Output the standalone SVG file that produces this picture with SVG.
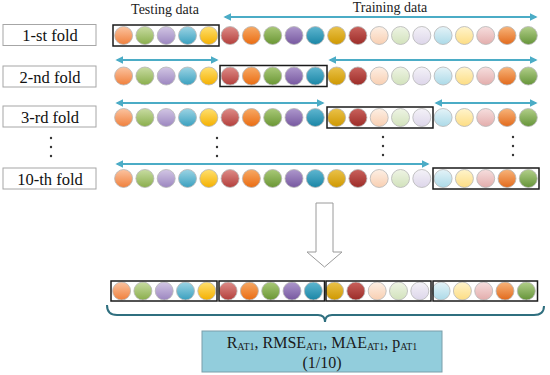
<svg xmlns="http://www.w3.org/2000/svg" xmlns:xlink="http://www.w3.org/1999/xlink" width="550" height="375" viewBox="0 0 550 375">
<style>
.lbl{fill:#fff;stroke:#a6a6a6;stroke-width:1}
.lt{font-family:"Liberation Serif",serif;font-size:16.5px;fill:#111;text-anchor:middle}
.hd{font-family:"Liberation Serif",serif;font-size:14px;fill:#222;text-anchor:middle}
.grp{fill:none;stroke:#1a1a1a;stroke-width:1.5}
.arr{fill:none;stroke:#4bacc6;stroke-width:2;marker-start:url(#ah);marker-end:url(#ah)}
.b{stroke:#b5b5b5;stroke-width:0.8}
.dot{fill:#333}
.res{font-family:"Liberation Serif",serif;font-size:16px;fill:#1a1a1a;text-anchor:middle}
.sub{font-size:10px}
</style>
<defs>
<marker id="ah" viewBox="0 0 10 10" refX="8" refY="5" markerWidth="4" markerHeight="4" orient="auto-start-reverse" markerUnits="strokeWidth">
<path d="M0,0 L10,5 L0,10 Z" fill="#4bacc6"/>
</marker>
<linearGradient id="g0" x1="0" y1="0" x2="0" y2="1"><stop offset="0" stop-color="#fbc3a0"/><stop offset="1" stop-color="#f0803c"/></linearGradient>
<linearGradient id="g1" x1="0" y1="0" x2="0" y2="1"><stop offset="0" stop-color="#c8dca2"/><stop offset="1" stop-color="#8aae4c"/></linearGradient>
<linearGradient id="g2" x1="0" y1="0" x2="0" y2="1"><stop offset="0" stop-color="#d2c6e4"/><stop offset="1" stop-color="#9c86c0"/></linearGradient>
<linearGradient id="g3" x1="0" y1="0" x2="0" y2="1"><stop offset="0" stop-color="#9cd4e4"/><stop offset="1" stop-color="#3aa0bf"/></linearGradient>
<linearGradient id="g4" x1="0" y1="0" x2="0" y2="1"><stop offset="0" stop-color="#ffe070"/><stop offset="1" stop-color="#f4b000"/></linearGradient>
<linearGradient id="g5" x1="0" y1="0" x2="0" y2="1"><stop offset="0" stop-color="#de8c88"/><stop offset="1" stop-color="#b33f3c"/></linearGradient>
<linearGradient id="g6" x1="0" y1="0" x2="0" y2="1"><stop offset="0" stop-color="#f7a965"/><stop offset="1" stop-color="#ea6c12"/></linearGradient>
<linearGradient id="g7" x1="0" y1="0" x2="0" y2="1"><stop offset="0" stop-color="#a9c978"/><stop offset="1" stop-color="#6a9634"/></linearGradient>
<linearGradient id="g8" x1="0" y1="0" x2="0" y2="1"><stop offset="0" stop-color="#ad97cc"/><stop offset="1" stop-color="#7758a0"/></linearGradient>
<linearGradient id="g9" x1="0" y1="0" x2="0" y2="1"><stop offset="0" stop-color="#5fb6d0"/><stop offset="1" stop-color="#1a86a6"/></linearGradient>
<linearGradient id="g10" x1="0" y1="0" x2="0" y2="1"><stop offset="0" stop-color="#eac24a"/><stop offset="1" stop-color="#cf9800"/></linearGradient>
<linearGradient id="g11" x1="0" y1="0" x2="0" y2="1"><stop offset="0" stop-color="#c9615c"/><stop offset="1" stop-color="#9c2c28"/></linearGradient>
<linearGradient id="g12" x1="0" y1="0" x2="0" y2="1"><stop offset="0" stop-color="#fdefe4"/><stop offset="1" stop-color="#f8cfb2"/></linearGradient>
<linearGradient id="g13" x1="0" y1="0" x2="0" y2="1"><stop offset="0" stop-color="#eef4e4"/><stop offset="1" stop-color="#d2e2bc"/></linearGradient>
<linearGradient id="g14" x1="0" y1="0" x2="0" y2="1"><stop offset="0" stop-color="#f4f2f8"/><stop offset="1" stop-color="#ddd6ea"/></linearGradient>
<linearGradient id="g15" x1="0" y1="0" x2="0" y2="1"><stop offset="0" stop-color="#e4f3f8"/><stop offset="1" stop-color="#acdae8"/></linearGradient>
<linearGradient id="g16" x1="0" y1="0" x2="0" y2="1"><stop offset="0" stop-color="#fff4cc"/><stop offset="1" stop-color="#fddd84"/></linearGradient>
<linearGradient id="g17" x1="0" y1="0" x2="0" y2="1"><stop offset="0" stop-color="#f6dede"/><stop offset="1" stop-color="#e3adac"/></linearGradient>
<linearGradient id="g18" x1="0" y1="0" x2="0" y2="1"><stop offset="0" stop-color="#f8b47a"/><stop offset="1" stop-color="#e26a1c"/></linearGradient>
<linearGradient id="g19" x1="0" y1="0" x2="0" y2="1"><stop offset="0" stop-color="#b2cf8a"/><stop offset="1" stop-color="#659438"/></linearGradient>
<g id="seq">
<circle class="b" cx="123.6" cy="0" r="9" fill="url(#g0)"/>
<circle class="b" cx="144.9" cy="0" r="9" fill="url(#g1)"/>
<circle class="b" cx="166.2" cy="0" r="9" fill="url(#g2)"/>
<circle class="b" cx="187.5" cy="0" r="9" fill="url(#g3)"/>
<circle class="b" cx="208.8" cy="0" r="9" fill="url(#g4)"/>
<circle class="b" cx="230.1" cy="0" r="9" fill="url(#g5)"/>
<circle class="b" cx="251.4" cy="0" r="9" fill="url(#g6)"/>
<circle class="b" cx="272.7" cy="0" r="9" fill="url(#g7)"/>
<circle class="b" cx="294.0" cy="0" r="9" fill="url(#g8)"/>
<circle class="b" cx="315.3" cy="0" r="9" fill="url(#g9)"/>
<circle class="b" cx="336.6" cy="0" r="9" fill="url(#g10)"/>
<circle class="b" cx="357.9" cy="0" r="9" fill="url(#g11)"/>
<circle class="b" cx="379.2" cy="0" r="9" fill="url(#g12)"/>
<circle class="b" cx="400.5" cy="0" r="9" fill="url(#g13)"/>
<circle class="b" cx="421.8" cy="0" r="9" fill="url(#g14)"/>
<circle class="b" cx="443.1" cy="0" r="9" fill="url(#g15)"/>
<circle class="b" cx="464.4" cy="0" r="9" fill="url(#g16)"/>
<circle class="b" cx="485.7" cy="0" r="9" fill="url(#g17)"/>
<circle class="b" cx="507.0" cy="0" r="9" fill="url(#g18)"/>
<circle class="b" cx="528.3" cy="0" r="9" fill="url(#g19)"/>
</g>
</defs>
<rect width="550" height="375" fill="#fff"/>

<text class="hd" x="165" y="14">Testing data</text>
<text class="hd" x="390" y="12">Training data</text>

<g id="fold1">
<rect class="lbl" x="3" y="24.5" width="93" height="21"/>
<text class="lt" x="50" y="41">1-st fold</text>
<use xlink:href="#seq" y="35.5"/>
<rect class="grp" x="113" y="25" width="106" height="21"/>
</g>
<g id="fold2">
<rect class="lbl" x="3" y="66" width="93" height="21"/>
<text class="lt" x="50" y="82.5">2-nd fold</text>
<use xlink:href="#seq" y="76"/>
<rect class="grp" x="220" y="65.5" width="107" height="21"/>
</g>
<g id="fold3">
<rect class="lbl" x="3" y="106" width="93" height="21"/>
<text class="lt" x="50" y="122.5">3-rd fold</text>
<use xlink:href="#seq" y="117.5"/>
<rect class="grp" x="327" y="107" width="106" height="21"/>
</g>
<g id="fold10">
<rect class="lbl" x="3" y="168" width="93" height="21"/>
<text class="lt" x="50" y="184.5">10-th fold</text>
<use xlink:href="#seq" y="178.5"/>
<rect class="grp" x="433" y="168" width="106" height="21"/>
</g>

<g id="ellipsis">
<circle class="dot" cx="51" cy="138" r="1.2"/><circle class="dot" cx="51" cy="147" r="1.2"/><circle class="dot" cx="51" cy="156" r="1.2"/>
<circle class="dot" cx="217" cy="138" r="1.2"/><circle class="dot" cx="217" cy="147" r="1.2"/><circle class="dot" cx="217" cy="156" r="1.2"/>
<circle class="dot" cx="383" cy="137" r="1.2"/><circle class="dot" cx="383" cy="146" r="1.2"/><circle class="dot" cx="383" cy="155" r="1.2"/>
<circle class="dot" cx="513" cy="137" r="1.2"/><circle class="dot" cx="513" cy="146" r="1.2"/><circle class="dot" cx="513" cy="155" r="1.2"/>
</g>

<g id="combined">
<use xlink:href="#seq" x="-2" y="291"/>
<rect class="grp" x="111" y="281" width="106" height="20"/>
<rect class="grp" x="219" y="281" width="105.5" height="20"/>
<rect class="grp" x="326" y="281" width="105" height="20"/>
<rect class="grp" x="433" y="281" width="104.5" height="20"/>
</g>

<g id="result">
<rect x="202" y="331" width="240" height="41" fill="#92cddc" stroke="#7a9eaa" stroke-width="1"/>
<text class="res" x="322" y="348">R<tspan class="sub" dy="1.5">AT1</tspan><tspan dy="-1.5">, RMSE</tspan><tspan class="sub" dy="1.5">AT1</tspan><tspan dy="-1.5">, MAE</tspan><tspan class="sub" dy="1.5">AT1</tspan><tspan dy="-1.5">, p</tspan><tspan class="sub" dy="1.5">AT1</tspan></text>
<text class="res" x="322" y="368">(1/10)</text>
</g>

<g id="connectors">
<path class="arr" d="M225,17 H536"/>
<path class="arr" d="M117,60 H217"/>
<path class="arr" d="M330,60 H536"/>
<path class="arr" d="M117,103 H323"/>
<path class="arr" d="M436,103 H536"/>
<path class="arr" d="M117,164 H428"/>
<path d="M316,203 H333 V252 H342 L324.5,267 L307,252 H316 Z" fill="#fff" stroke="#9a9a9a" stroke-width="1"/>
<path d="M107,305 Q107,315 117,315 H318 Q325,315 325,322 Q325,315 332,315 H534 Q544,315 544,306" fill="none" stroke="#2f6f7f" stroke-width="2"/>
</g>
</svg>
